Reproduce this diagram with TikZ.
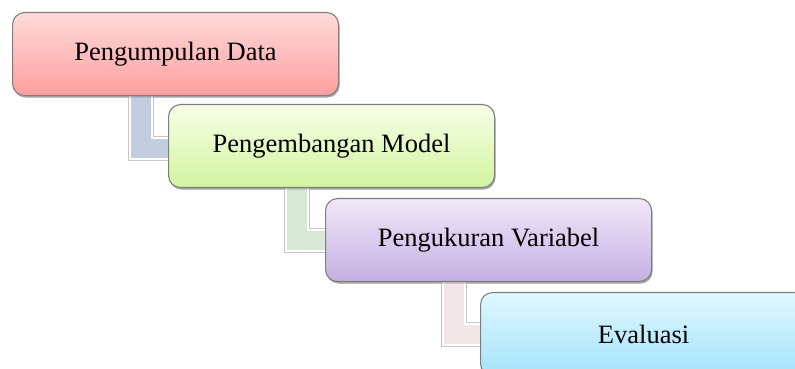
\documentclass[tikz,border=0pt]{standalone}
\usepackage{fontspec}
\setmainfont{Liberation Serif}
\usetikzlibrary{calc,shadows}

\definecolor{redtop}{HTML}{FFDADA}
\definecolor{redbot}{HTML}{FF9F9F}
\definecolor{greentop}{HTML}{F6FFE6}
\definecolor{greenbot}{HTML}{D3F4A0}
\definecolor{violettop}{HTML}{EFE8F8}
\definecolor{violetbot}{HTML}{C6B0E4}
\definecolor{cyantop}{HTML}{E0F7FF}
\definecolor{cyanbot}{HTML}{A3E4FA}
\definecolor{linkblue}{HTML}{C3CDE0}
\definecolor{linkgreen}{HTML}{D8E9D5}
\definecolor{linkrose}{HTML}{F2E6E6}
\definecolor{rim}{HTML}{7F7F7F}

\tikzset{
  stepbox/.style={
    draw=rim, line width=1.1pt, rounded corners=12pt,
    minimum width=326pt, minimum height=83pt, anchor=north west,
    inner sep=0pt, font=\fontsize{26.5}{32}\selectfont,
    drop shadow={shadow xshift=1pt, shadow yshift=-2pt, opacity=0.35, fill=black!60}
  },
  linkband/.style={
    line width=2.6pt, draw=white, line join=miter,
    preaction={draw=black!22, line width=4.4pt}
  }
}

% L-shaped band from the lower box edge of #1 into the left side of #2
\newcommand{\stepband}[3]{%
  \path[linkband, fill=#3]
    ($(#1.south west)+(118,6)$) coordinate (p1)
    -- ($(#1.south west)+(118,-63)$) coordinate (p2)
    -- ($(#2.west |- p2)+(12,0)$)
    -- ($(#2.west |- #1.south west)+(12,-42)$)
    -- ($(#1.south west)+(140,-42)$)
    -- ($(#1.south west)+(140,6)$) -- cycle;}

\begin{document}
\begin{tikzpicture}[x=1pt, y=1pt]
  \useasboundingbox (0,0) rectangle (795,369);

  % boxes are placed first (invisible) so the bands can refer to them
  \path
    (12,357)  node[stepbox, draw=none, shade=none, drop shadow={opacity=0}] (b1) {}
    (168,265) node[stepbox, draw=none, drop shadow={opacity=0}] (b2) {}
    (325,171) node[stepbox, draw=none, drop shadow={opacity=0}] (b3) {}
    (480,77)  node[stepbox, draw=none, drop shadow={opacity=0}] (b4) {};

  \stepband{b1}{b2}{linkblue}
  \stepband{b2}{b3}{linkgreen}
  \stepband{b3}{b4}{linkrose}

  \node[stepbox, top color=redtop, bottom color=redbot] (s1) at (b1.north west) {Pengumpulan Data};
  \node[stepbox, top color=greentop, bottom color=greenbot] (s2) at (b2.north west) {Pengembangan Model};
  \node[stepbox, top color=violettop, bottom color=violetbot] (s3) at (b3.north west) {Pengukuran Variabel};
  \node[stepbox, top color=cyantop, bottom color=cyanbot] (s4) at (b4.north west) {Evaluasi};
\end{tikzpicture}
\end{document}
